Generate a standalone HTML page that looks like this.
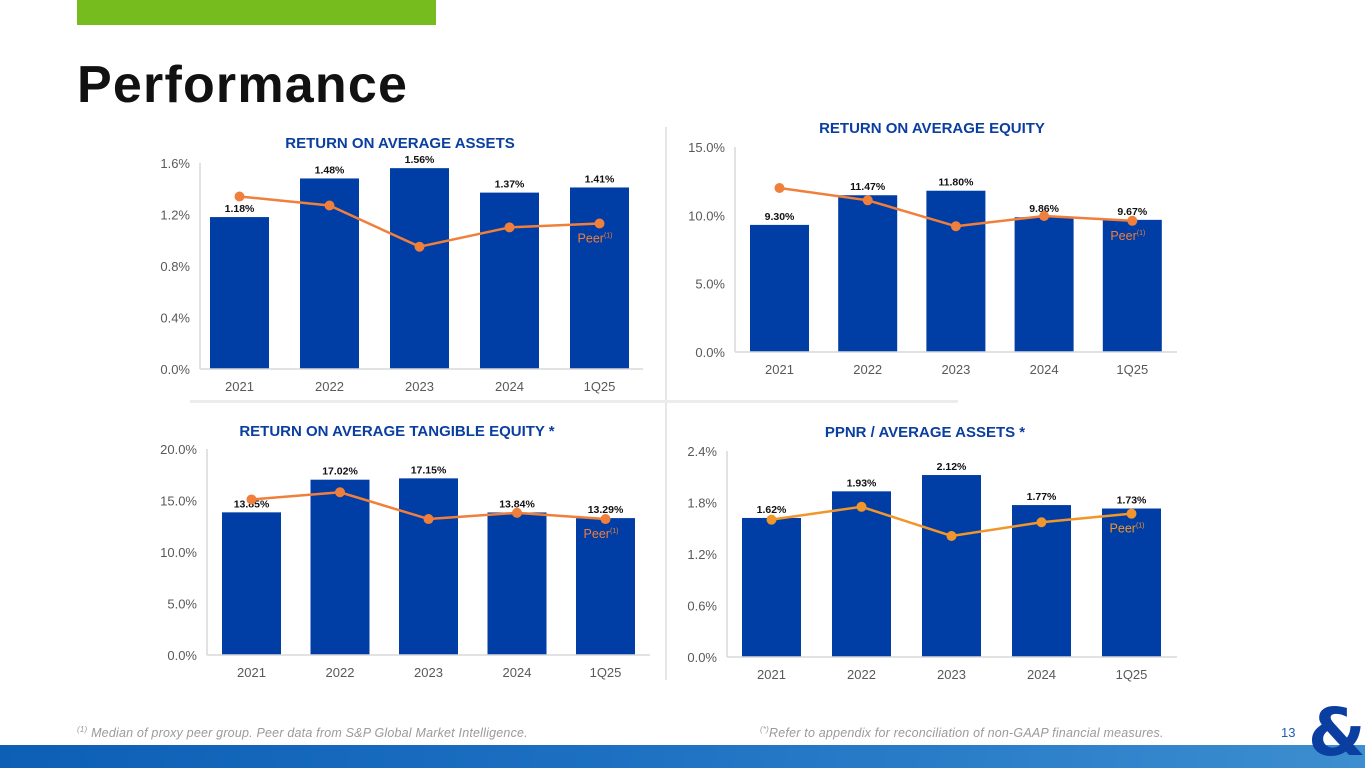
<!DOCTYPE html>
<html><head><meta charset="utf-8">
<style>
html,body{margin:0;padding:0;}
body{width:1365px;height:768px;position:relative;overflow:hidden;background:#fff;font-family:"Liberation Sans",sans-serif;}
.abs{position:absolute;}
</style></head>
<body>
<div class="abs" style="left:77px;top:0;width:359px;height:25px;background:#76BC1E"></div>
<div class="abs" style="left:77px;top:55px;font-size:52px;font-weight:bold;color:#111;letter-spacing:1.2px">Performance</div>
<div class="abs" style="left:665px;top:127px;width:2px;height:553px;background:#e6e6e6"></div>
<div class="abs" style="left:190px;top:400px;width:768px;height:3px;background:#ececec"></div>
<svg class="abs" id="charts" style="left:0;top:0" width="1365" height="768"></svg>
<div class="abs" style="left:77px;top:725px;font-size:12.5px;font-style:italic;color:#9a9a9a;letter-spacing:0.2px"><sup style="font-size:8px">(1)</sup> Median of proxy peer group. Peer data from S&amp;P Global Market Intelligence.</div>
<div class="abs" style="left:760px;top:725px;font-size:12.5px;font-style:italic;color:#9a9a9a;letter-spacing:0.2px"><sup style="font-size:8px">(*)</sup>Refer to appendix for reconciliation of non-GAAP financial measures.</div>
<div class="abs" style="left:1281px;top:725px;font-size:13px;color:#1f5fae">13</div>
<div class="abs" style="left:0;top:745px;width:1365px;height:23px;background:linear-gradient(100deg,#0c5fb5 0%,#1b6ec0 40%,#2a7ec8 70%,#3d8ed0 100%)"></div>
<div class="abs" style="left:1308px;top:700px;font-size:66px;font-weight:bold;color:#0a3ea0;line-height:66px;font-family:'DejaVu Sans',sans-serif">&amp;</div>
<script>
const categories = ["2021","2022","2023","2024","1Q25"];
const roaaValues = [1.18,1.48,1.56,1.37,1.41];
const roaaPeer = [1.34,1.27,0.95,1.10,1.13];
const roaaTicks = [0,0.4,0.8,1.2,1.6];
const roaeValues = [9.30,11.47,11.80,9.86,9.67];
const roaePeer = [12.0,11.1,9.2,9.95,9.6];
const roaeTicks = [0,5,10,15];
const roateValues = [13.85,17.02,17.15,13.84,13.29];
const roatePeer = [15.1,15.8,13.2,13.8,13.2];
const roateTicks = [0,5,10,15,20];
const ppnrValues = [1.62,1.93,2.12,1.77,1.73];
const ppnrPeer = [1.60,1.75,1.41,1.57,1.67];
const ppnrTicks = [0,0.6,1.2,1.8,2.4];

const NS="http://www.w3.org/2000/svg";
const svg=document.getElementById('charts');
function mk(tag,attrs,parent){const e=document.createElementNS(NS,tag);for(const k in attrs)e.setAttribute(k,attrs[k]);(parent||svg).appendChild(e);return e;}

function drawChart(cfg,values,peer,ticks){
  const g=mk('g',{});
  
  
  const yMax=ticks[ticks.length-1];
  const y=v=>cfg.y0-(v/yMax)*(cfg.y0-cfg.yTop);
  const x=i=>cfg.xc0+i*cfg.step;
  const t=mk('text',{x:cfg.titleX,y:cfg.titleY,'text-anchor':'middle','font-size':15,'font-weight':'bold',fill:'#0a3ea0'},g);
  t.textContent=cfg.title;
  
  
  const ax=mk('line',{x1:cfg.axL,x2:cfg.axL,y1:cfg.yTop,y2:cfg.y0,stroke:'#d9d9d9','stroke-width':1.5},g);
  
  
  ticks.forEach(tv=>{
    const tt=mk('text',{x:cfg.axL-10,y:y(tv)+5,'text-anchor':'end','font-size':13,fill:'#595959'},g);
    tt.textContent=tv.toFixed(1)+'%';
    
    
  });
  values.forEach((v,i)=>{
    const r=mk('rect',{x:x(i)-cfg.bw/2,y:y(v),width:cfg.bw,height:cfg.y0-y(v),fill:'#003DA5'},g);
    
    
    const l=mk('text',{x:x(i),y:y(v)-5,'text-anchor':'middle','font-size':10.5,'font-weight':'bold',fill:'#111'},g);
    l.textContent=v.toFixed(2)+'%';
    
    
    const c=mk('text',{x:x(i),y:cfg.y0+22,'text-anchor':'middle','font-size':13,fill:'#595959'},g);
    c.textContent=categories[i];
    
    
  });
  const base=mk('line',{x1:cfg.axL,x2:cfg.axR,y1:cfg.y0,y2:cfg.y0,stroke:'#d9d9d9','stroke-width':1.5},g);
  
  
  const pts=peer.map((v,i)=>x(i)+','+y(v)).join(' ');
  const pl=mk('polyline',{points:pts,fill:'none',stroke:cfg.lc,'stroke-width':2.5},g);
  
  
  peer.forEach((v,i)=>{
    const d=mk('circle',{cx:x(i),cy:y(v),r:5,fill:cfg.lc},g);
    
    
  });
  const last=peer.length-1;
  const pe=mk('text',{x:x(last)+13,y:y(peer[last])+19,'text-anchor':'end','font-size':12.5,fill:cfg.lc},g);
  pe.textContent='Peer';
  
  
  const sp=mk('tspan',{'font-size':7,dy:-5},pe);
  sp.textContent='(1)';
}
drawChart({name:'roaa-chart',title:'RETURN ON AVERAGE ASSETS',titleX:400,titleY:148,y0:369,yTop:163,xc0:239.5,step:90,bw:59,axL:200,axR:643,lc:'#F07F3C'},roaaValues,roaaPeer,roaaTicks);
drawChart({name:'roae-chart',title:'RETURN ON AVERAGE EQUITY',titleX:932,titleY:133,y0:352,yTop:147,xc0:779.5,step:88.2,bw:59,axL:735,axR:1177,lc:'#F07F3C'},roaeValues,roaePeer,roaeTicks);
drawChart({name:'roate-chart',title:'RETURN ON AVERAGE TANGIBLE EQUITY *',titleX:397,titleY:436,y0:655,yTop:449,xc0:251.5,step:88.5,bw:59,axL:207,axR:650,lc:'#F07F3C'},roateValues,roatePeer,roateTicks);
drawChart({name:'ppnr-chart',title:'PPNR / AVERAGE ASSETS *',titleX:925,titleY:437,y0:657,yTop:451,xc0:771.5,step:90,bw:59,axL:727,axR:1177,lc:'#F0962A'},ppnrValues,ppnrPeer,ppnrTicks);
</script>
</body></html>
